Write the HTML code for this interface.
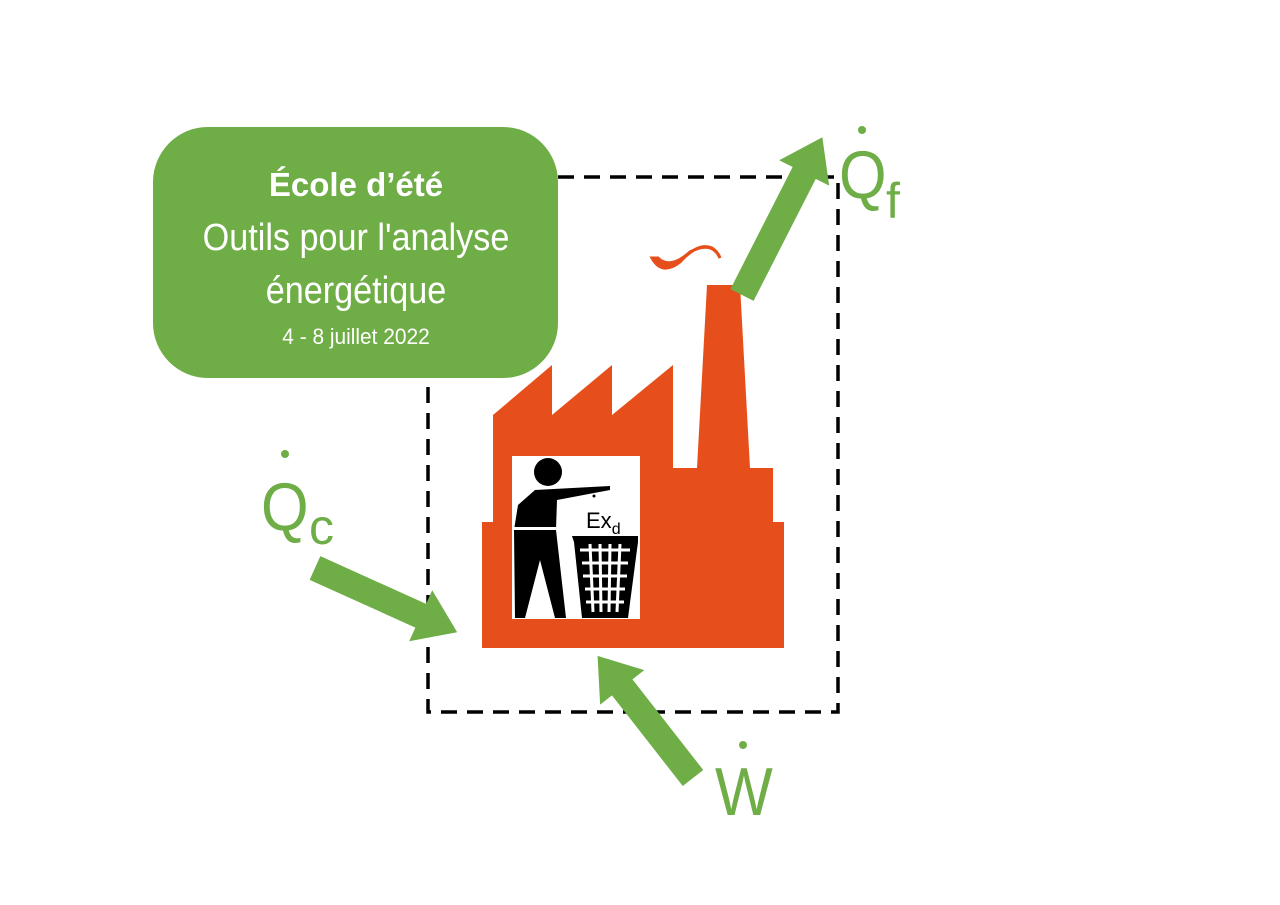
<!DOCTYPE html><html><head><style>body{margin:0;background:#fff}svg{display:block}text{font-family:"Liberation Sans",sans-serif}</style></head><body>
<svg width="1280" height="905" viewBox="0 0 1280 905">
<rect x="428" y="177" width="410" height="535" fill="none" stroke="#000" stroke-width="3.5" stroke-dasharray="16,10"/>
<path d="M482,648 L482,522 L493,522 L493,415 L552,365 L552,415 L612,365 L612,415 L673,365 L673,468 L697,468 L707,285 L740,285 L750,468 L773,468 L773,522 L784,522 L784,648 Z" fill="#e64f1c"/>
<path d="M652,258 Q662,276 680,262 Q698,242 712,248 Q718,252 720,258 Q712,240 690,252 Q670,270 658,258 Z" fill="#e64f1c" stroke="#e64f1c" stroke-width="3"/>
<rect x="512" y="456" width="128" height="163" fill="#fff"/>
<circle cx="548" cy="472" r="14" fill="#000"/>
<path d="M535,490 L610,486 L610,490 L557,500 L556,530 L566,618 L555,618 L540,560 L525,618 L515,618 L514,530 L518,505 Z" fill="#000"/>
<rect x="514" y="527" width="42" height="3" fill="#fff"/>
<path d="M572,536 L638,536 L638,542 L628,618 L582,618 L574,542 Z" fill="#000"/>
<g stroke="#fff" stroke-width="3"><line x1="580" y1="550" x2="630" y2="550"/><line x1="582" y1="563" x2="628" y2="563"/><line x1="583" y1="576" x2="627" y2="576"/><line x1="585" y1="589" x2="625" y2="589"/><line x1="586" y1="602" x2="624" y2="602"/><line x1="590" y1="544" x2="593" y2="612"/><line x1="600" y1="544" x2="601" y2="612"/><line x1="610" y1="544" x2="609" y2="612"/><line x1="620" y1="544" x2="617" y2="612"/></g>
<text x="586" y="528" font-size="22" fill="#000">Ex<tspan font-size="16" dy="6">d</tspan></text>
<circle cx="594" cy="496" r="1.5" fill="#000"/>
<rect x="153" y="127" width="405" height="251" rx="55" fill="#6fad47"/>
<g fill="#fff" text-anchor="middle">
<text transform="translate(356,196) scale(1,1)" font-size="33" font-weight="bold">École d’été</text>
<text transform="translate(356,250) scale(0.9,1)" font-size="38">Outils pour l'analyse</text>
<text transform="translate(356,303) scale(0.9,1)" font-size="38">énergétique</text>
<text transform="translate(356,344) scale(0.95,1)" font-size="22">4 - 8 juillet 2022</text>
</g>
<g fill="#6fad47">
<polygon points="0,-13 116,-13 116,-28 156,0 116,28 116,13 0,13" transform="translate(315,568) rotate(24.3)"/>
<polygon points="0,-13 137,-13 137,-28 177,0 137,28 137,13 0,13" transform="translate(742,295) rotate(-63)"/>
<polygon points="0,-13 115,-13 115,-28 155,0 115,28 115,13 0,13" transform="translate(693,778) rotate(232)"/>
</g>
<g fill="#6fad47">
<text transform="translate(261,530) scale(0.9,1)" font-size="68">Q</text><text x="309" y="544" font-size="50">c</text><circle cx="285" cy="454" r="4"/>
<text transform="translate(839,198) scale(0.9,1)" font-size="68">Q</text><text x="886" y="218" font-size="50">f</text><circle cx="862" cy="130" r="4"/>
<text transform="translate(715,815) scale(0.9,1)" font-size="68">W</text><circle cx="743" cy="745" r="4"/>
</g>
</svg></body></html>
